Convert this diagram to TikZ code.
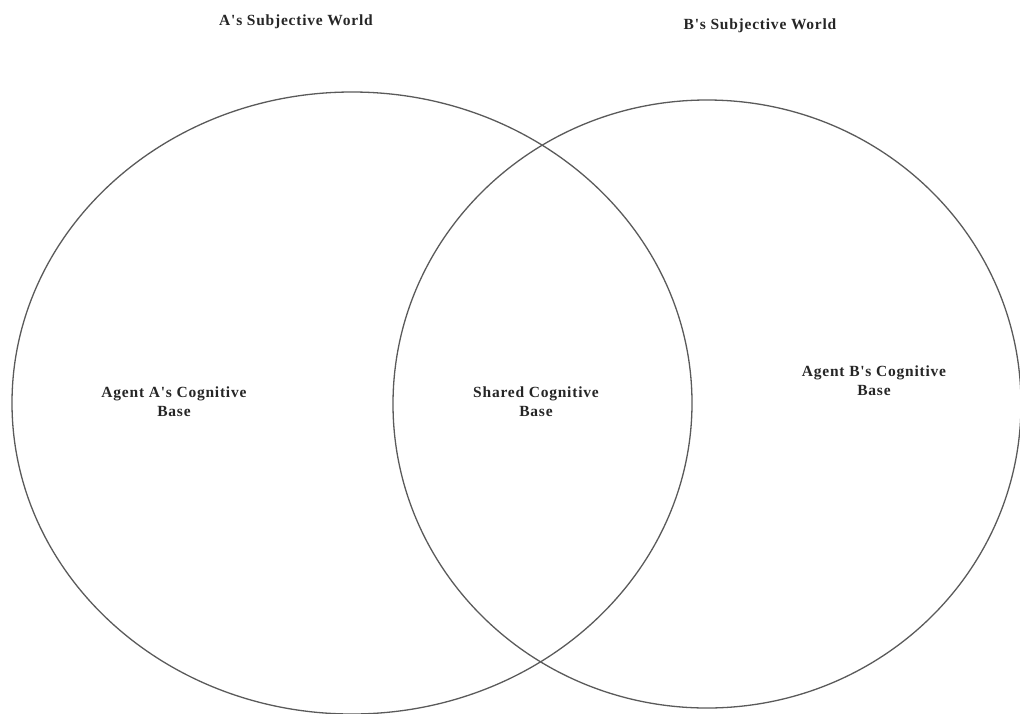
\documentclass[tikz,border=0pt]{standalone}
\usepackage{fontspec}
\setmainfont{Liberation Serif}
\newfontfamily\lblfont[LetterSpace=5]{Liberation Serif}
\definecolor{linegray}{HTML}{5A5A5A}
\begin{document}
\begin{tikzpicture}[x=1pt,y=-1pt,
  venn/.style={draw=linegray,line width=1.3pt},
  lbl/.style={font=\lblfont\bfseries\fontsize{15.5}{19}\selectfont,align=center,inner sep=0pt,text=black!85}]
\useasboundingbox (0,0) rectangle (1020,713);
\begin{scope}
\clip (0,0) rectangle (1020,713);
\draw[venn] (352,403) ellipse [x radius=340, y radius=311];
\draw[venn] (707,404) ellipse [x radius=314, y radius=304];
\end{scope}
\node[lbl] (tA) at (296,22) {A's Subjective World};
\node[lbl] (tB) at (760,26) {B's Subjective World};
\node[lbl] (cA) at (174,402) {Agent A's Cognitive\\Base};
\node[lbl] (cS) at (536,402) {Shared Cognitive\\Base};
\node[lbl] (cB) at (874,381) {Agent B's Cognitive\\Base};
\end{tikzpicture}
\end{document}
